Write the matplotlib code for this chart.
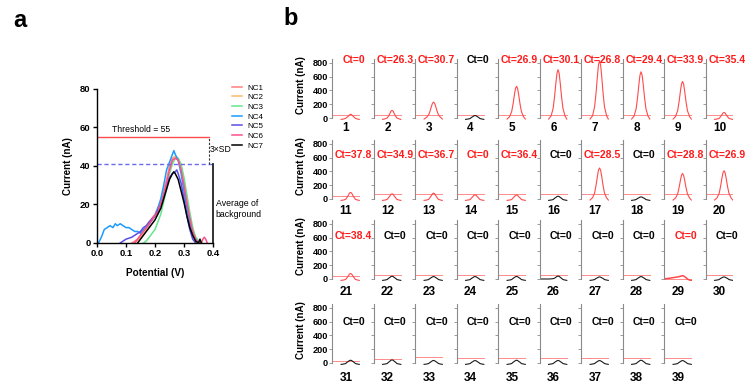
import matplotlib
matplotlib.use('Agg')
import matplotlib.pyplot as plt
import numpy as np

plt.rcParams['font.family'] = ['Liberation Sans', 'DejaVu Sans']

W, H = 753, 389
N = None

# ---------------- panel a data ----------------
nc_names = ['NC1', 'NC2', 'NC3', 'NC4', 'NC5', 'NC6', 'NC7']
nc_colors = ['#ff8080', '#ffb870', '#66e68c', '#1e9bff', '#5a4fe6', '#ff4f8b', '#000000']

nc1_x = [0.12, 0.14, 0.16, 0.18, 0.20, 0.22, 0.24, 0.25, 0.26, 0.27, 0.28, 0.29, 0.30, 0.31, 0.32, 0.33, 0.34, 0.35]
nc1_y = [0, 2, 6, 11, 15, 22, 33, 40, 44, 45, 43, 38, 30, 21, 12, 5, 1, 0]
nc2_x = [0.13, 0.15, 0.17, 0.19, 0.21, 0.23, 0.25, 0.26, 0.27, 0.28, 0.29, 0.30, 0.31, 0.32, 0.33, 0.34, 0.35, 0.36]
nc2_y = [0, 3, 7, 12, 17, 26, 38, 43, 45, 44, 40, 32, 23, 14, 7, 3, 1, 0]
nc3_x = [0.16, 0.17, 0.18, 0.20, 0.22, 0.24, 0.25, 0.26, 0.27, 0.28, 0.29, 0.30, 0.31, 0.32, 0.33, 0.34, 0.35, 0.36]
nc3_y = [0, 1, 3, 7, 15, 28, 36, 41, 44, 44, 41, 34, 25, 16, 8, 3, 1, 0]
nc4_x = [0.005, 0.015, 0.025, 0.035, 0.045, 0.055, 0.063, 0.07, 0.08, 0.09, 0.10, 0.11, 0.12, 0.13,
         0.14, 0.15, 0.16, 0.17, 0.18, 0.19, 0.20, 0.21, 0.22, 0.23, 0.24, 0.25, 0.26, 0.265, 0.27,
         0.28, 0.29, 0.30, 0.31, 0.32, 0.33, 0.34, 0.35]
nc4_y = [0, 3, 7, 8, 9, 8, 10, 9, 10, 9, 8, 8, 7, 6,
         6, 5, 7, 8, 10, 12, 14, 18, 23, 30, 38, 42, 46, 48, 46,
         43, 36, 27, 18, 10, 5, 2, 0]
nc5_x = [0.08, 0.09, 0.10, 0.12, 0.14, 0.15, 0.16, 0.17, 0.18, 0.20, 0.22, 0.24, 0.25, 0.26, 0.27,
         0.275, 0.28, 0.29, 0.30, 0.31, 0.32, 0.33, 0.34]
nc5_y = [0, 1, 2, 3, 5, 6, 8, 9, 11, 14, 20, 30, 34, 36, 37, 38, 36, 31, 23, 14, 7, 2, 0]
nc6_x = [0.13, 0.15, 0.17, 0.19, 0.21, 0.23, 0.25, 0.26, 0.27, 0.28, 0.29, 0.30, 0.31, 0.32, 0.33,
         0.34, 0.35, 0.36, 0.365, 0.37, 0.375, 0.38]
nc6_y = [0, 4, 8, 12, 16, 25, 38, 43, 44, 43, 38, 30, 21, 13, 6, 2, 0, 0, 2, 3, 2, 0]
nc7_x = [0.14, 0.16, 0.18, 0.20, 0.22, 0.24, 0.25, 0.26, 0.265, 0.27, 0.28, 0.29, 0.30, 0.31, 0.32,
         0.33, 0.34, 0.35, 0.355, 0.36]
nc7_y = [0, 4, 8, 12, 18, 28, 33, 36, 37, 36, 33, 27, 21, 14, 8, 4, 1, 0, 2, 0]

threshold_a = 55
background_a = 41

# ---------------- panel b data ----------------
b_x = [0.0, 0.07, 0.13, 0.165, 0.195, 0.215, 0.235, 0.25, 0.265, 0.28, 0.295, 0.315, 0.335, 0.365, 0.39]
b_curves = [
    [N, N, -20, -15, -5, 10, 28, 45, 55, 48, 32, 12, -5, -15, -20],
    [N, N, -20, -12, 0, 28, 66, 100, 110, 100, 66, 28, 0, -12, -20],
    [N, N, -15, 9, 46, 101, 170, 214, 230, 214, 170, 101, 46, 9, -15],
    [N, N, -20, -15, -8, 9, 21, 32, 35, 32, 21, 9, -8, -15, -20],
    [N, N, -15, 18, 92, 202, 340, 428, 460, 428, 340, 202, 92, 18, -15],
    [N, N, -15, 28, 140, 308, 518, 651, 700, 651, 518, 308, 140, 28, -15],
    [N, N, -15, 33, 166, 365, 614, 772, 830, 772, 614, 365, 166, 33, -15],
    [N, N, -15, 27, 134, 295, 496, 623, 670, 623, 496, 295, 134, 27, -15],
    [N, N, -15, 21, 106, 233, 392, 493, 530, 493, 392, 233, 106, 21, -15],
    [N, N, -20, -15, -6, 20, 48, 72, 80, 72, 48, 20, -6, -15, -20],
    [N, N, -20, -15, -5, 24, 57, 86, 95, 86, 57, 24, -5, -15, -20],
    [N, N, -20, -15, -6, 19, 45, 68, 75, 68, 45, 19, -6, -15, -20],
    [N, N, -20, -15, -5, 21, 51, 77, 85, 77, 51, 21, -5, -15, -20],
    [N, N, -20, -15, -8, 15, 36, 54, 60, 54, 36, 15, -8, -15, -20],
    [N, N, -20, -15, -8, 15, 35, 52, 58, 52, 35, 15, -8, -15, -20],
    [N, N, -20, -15, -8, 10, 24, 36, 40, 36, 24, 10, -8, -15, -20],
    [N, N, -15, 18, 90, 198, 333, 419, 450, 419, 333, 198, 90, 18, -15],
    [N, N, -20, -15, -8, 8, 18, 27, 30, 27, 18, 8, -8, -15, -20],
    [N, N, -15, 15, 74, 163, 274, 344, 370, 344, 274, 163, 74, 15, -15],
    [N, N, -15, 16, 82, 180, 303, 381, 410, 381, 303, 180, 82, 16, -15],
    [N, N, -20, -15, -6, 20, 48, 72, 80, 72, 48, 20, -6, -15, -20],
    [N, N, -20, -15, -8, 10, 24, 36, 40, 36, 24, 10, -8, -15, -20],
    [N, N, -20, -15, -8, 9, 21, 32, 35, 32, 21, 9, -8, -15, -20],
    [N, N, -20, -15, -8, 9, 21, 32, 35, 32, 21, 9, -8, -15, -20],
    [N, N, -20, -15, -8, 9, 22, 33, 37, 33, 22, 9, -8, -15, -20],
    [0, 0, 0, 2, 5, 12, 26, 38, 42, 38, 26, 10, -8, -15, -20],
    [N, N, -20, -15, -8, 8, 18, 27, 30, 27, 18, 8, -8, -15, -20],
    [N, N, -20, -15, -8, 9, 21, 32, 35, 32, 21, 9, -8, -15, -20],
    [2, 10, 20, 25, 30, 34, 39, 44, 48, 44, 35, 20, 0, -15, -20],
    [N, N, -20, -15, -8, 8, 18, 27, 30, 27, 18, 8, -8, -15, -20],
    [N, N, -20, -15, -8, 10, 24, 36, 40, 36, 24, 10, -8, -15, -20],
    [N, N, -20, -15, -8, 11, 27, 40, 45, 40, 27, 11, -8, -15, -20],
    [N, N, -20, -15, -8, 9, 22, 33, 37, 33, 22, 9, -8, -15, -20],
    [N, N, -20, -15, -8, 9, 21, 32, 35, 32, 21, 9, -8, -15, -20],
    [N, N, -20, -15, -8, 10, 24, 36, 40, 36, 24, 10, -8, -15, -20],
    [N, N, -20, -15, -8, 9, 22, 33, 37, 33, 22, 9, -8, -15, -20],
    [N, N, -20, -15, -8, 9, 21, 32, 35, 32, 21, 9, -8, -15, -20],
    [N, N, -20, -15, -8, 10, 24, 36, 40, 36, 24, 10, -8, -15, -20],
    [N, N, -20, -15, -8, 9, 21, 32, 35, 32, 21, 9, -8, -15, -20],
]
b_threshold = [50, 50, 50, 50, 50, 50, 50, 50, 50, 50,
               40, 77, 77, 77, 77, 77, 77, 77, 77, 77,
               48, 62, 62, 62, 62, 62, 62, 62, 5, 62,
               33, 58, 80, 72, 67, 67, 67, 67, 67]
b_ct = ['Ct=0', 'Ct=26.3', 'Ct=30.7', 'Ct=0', 'Ct=26.9', 'Ct=30.1', 'Ct=26.8', 'Ct=29.4', 'Ct=33.9', 'Ct=35.4',
        'Ct=37.8', 'Ct=34.9', 'Ct=36.7', 'Ct=0', 'Ct=36.4', 'Ct=0', 'Ct=28.5', 'Ct=0', 'Ct=28.8', 'Ct=26.9',
        'Ct=38.4', 'Ct=0', 'Ct=0', 'Ct=0', 'Ct=0', 'Ct=0', 'Ct=0', 'Ct=0', 'Ct=0', 'Ct=0',
        'Ct=0', 'Ct=0', 'Ct=0', 'Ct=0', 'Ct=0', 'Ct=0', 'Ct=0', 'Ct=0', 'Ct=0']
b_red = [1, 1, 1, 0, 1, 1, 1, 1, 1, 1,
         1, 1, 1, 1, 1, 0, 1, 0, 1, 1,
         1, 0, 0, 0, 0, 0, 0, 0, 1, 0,
         0, 0, 0, 0, 0, 0, 0, 0, 0]

fig = plt.figure(figsize=(7.53, 3.89), dpi=100)

# ---------------- panel a ----------------
ax = fig.add_axes([97 / W, 1 - 243 / H, 116 / W, 154 / H])
xs = [nc1_x, nc2_x, nc3_x, nc4_x, nc5_x, nc6_x, nc7_x]
ys = [nc1_y, nc2_y, nc3_y, nc4_y, nc5_y, nc6_y, nc7_y]
for x, y, c, name in zip(xs, ys, nc_colors, nc_names):
    ax.plot(x, y, color=c, lw=1.1, label=name)

ax.plot([0, 0.385], [threshold_a, threshold_a], color='#ff4d4d', lw=1.0)
ax.plot([0, 0.4], [background_a, background_a], color='#6a6af0', lw=1.0, ls=(0, (3, 2)))
ax.plot([0.385, 0.385], [background_a, threshold_a], color='#333333', lw=0.8, ls=(0, (2, 1.5)),
        clip_on=False)
ax.plot([0.4, 0.4], [0, background_a], color='#222222', lw=1.3, clip_on=False)

ax.text(0.05, 59, 'Threshold = 55', fontsize=6.2, va='center', ha='left')
ax.text(0.39, 48.5, '3×SD', fontsize=6.2, va='center', ha='left', clip_on=False)
ax.text(0.41, 17.7, 'Average of\nbackground', fontsize=6.3, va='center', ha='left',
        linespacing=1.25, clip_on=False)

ax.set_xlim(0, 0.4)
ax.set_ylim(0, 80)
ax.set_xticks([0.0, 0.1, 0.2, 0.3, 0.4])
ax.set_xticklabels(['0.0', '0.1', '0.2', '0.3', '0.4'])
ax.set_yticks([0, 20, 40, 60, 80])
ax.spines['top'].set_visible(False)
ax.spines['right'].set_visible(False)
for s in ['left', 'bottom']:
    ax.spines[s].set_linewidth(1.0)
ax.tick_params(direction='out', length=3, width=1.0, labelsize=6.8, pad=1.5)
for lab in ax.get_xticklabels() + ax.get_yticklabels():
    lab.set_fontweight('bold')
ax.set_xlabel('Potential (V)', fontsize=7.2, fontweight='bold')
ax.set_ylabel('Current (nA)', fontsize=7, fontweight='bold')
ax.xaxis.set_label_coords(0.5, -25 / 154)
ax.yaxis.set_label_coords(-24 / 116, 0.5)
ax.legend(loc='upper left', bbox_to_anchor=(232 / W, 1 - 84 / H), bbox_transform=fig.transFigure,
          frameon=False, fontsize=5.8, handlelength=1.3, handletextpad=0.6, labelspacing=0.25,
          borderaxespad=0, borderpad=0)

fig.text(13 / W, 1 - 27 / H, 'a', fontsize=17, fontweight='bold', va='baseline', ha='left')
fig.text(283 / W, 1 - 25 / H, 'b', fontsize=17, fontweight='bold', va='baseline', ha='left')

# ---------------- panel b ----------------
col_x0, col_dx, col_w = 332, 41.5, 28
row_zero = [118, 199, 279, 363]
ub_per_px = 14.5
y_lo, y_hi = -25, 850
ax_h = (y_hi - y_lo) / ub_per_px
num_off = [6.0, 7.5, 8.2, 9.8]
ct_y = [838, 640, 625, 600]

for i in range(39):
    r, c = divmod(i, 10)
    bottom_px = row_zero[r] - y_lo / ub_per_px
    axb = fig.add_axes([(col_x0 + col_dx * c) / W, 1 - bottom_px / H, col_w / W, ax_h / H])
    axb.set_xlim(0, 0.4)
    axb.set_ylim(y_lo, y_hi)
    curve = np.array(b_curves[i], dtype=float)
    col = '#ff4a4a' if b_red[i] else '#1a1a1a'
    axb.axhline(b_threshold[i], color='#ff8c8c', lw=0.7)
    axb.plot(b_x, curve, color=col, lw=0.8 if i != 28 else 1.1)
    for s in ['top', 'right', 'bottom']:
        axb.spines[s].set_visible(False)
    axb.spines['left'].set_color('#8a8a8a')
    axb.spines['left'].set_linewidth(0.8)
    axb.spines['left'].set_bounds(0, y_hi)
    axb.set_xticks([])
    axb.set_yticks([0, 200, 400, 600, 800])
    axb.tick_params(axis='y', direction='out', length=2, width=0.6, color='#8a8a8a',
                    labelsize=6.6, pad=1)
    if c == 0:
        for lab in axb.get_yticklabels():
            lab.set_fontweight('bold')
        axb.set_ylabel('Current (nA)', fontsize=7, fontweight='bold')
        axb.yaxis.set_label_coords(-26 / col_w, 0.58)
    else:
        axb.tick_params(labelleft=False)
    axb.text(0.77, ct_y[r], b_ct[i], transform=axb.get_yaxis_transform(),
             color='#ff1a1a' if b_red[i] else 'black', fontsize=7.5, fontweight='bold',
             ha='center', va='center', clip_on=False)
    axb.annotate(str(i + 1), xy=(0.5, 0), xycoords='axes fraction', xytext=(0, -num_off[r]),
                 textcoords='offset points', ha='center', va='center', fontsize=8.5,
                 fontweight='bold')

fig.savefig('out.png', dpi=100)
